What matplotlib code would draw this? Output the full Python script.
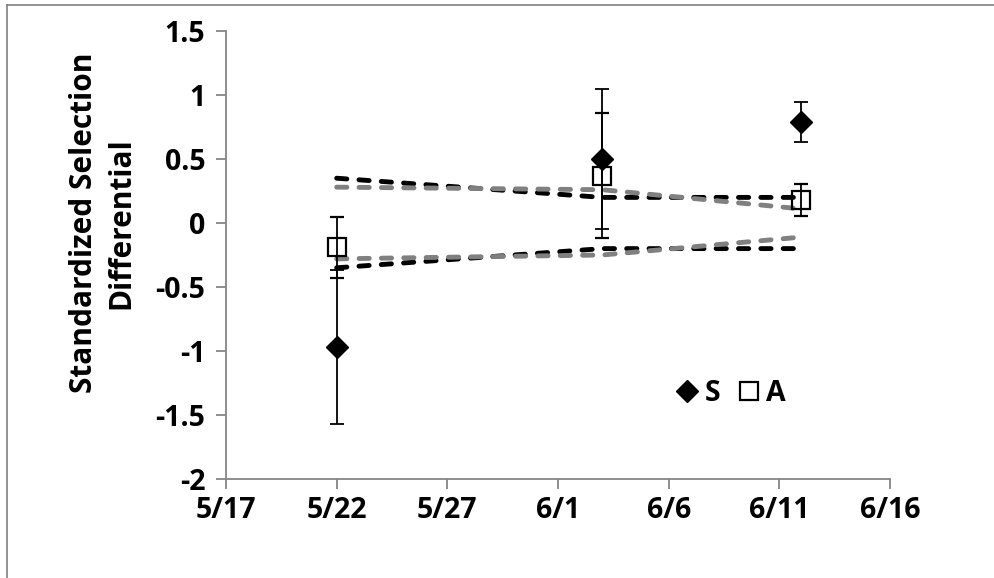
import matplotlib
matplotlib.use("Agg")
import matplotlib.pyplot as plt
import matplotlib.dates as mdates
from matplotlib.lines import Line2D
import datetime as dt

# point dates
dates = [dt.date(2013, 5, 22), dt.date(2013, 6, 3), dt.date(2013, 6, 12)]

# S series (filled diamonds)
s_vals = [-0.97, 0.50, 0.79]
s_err = [0.60, 0.55, 0.155]

# A series (open squares)
a_vals = [-0.19, 0.37, 0.18]
a_err = [0.24, 0.49, 0.125]

# significance bands (dashed)
black_upper = [0.35, 0.20, 0.20]
black_lower = [-0.35, -0.20, -0.20]
gray_upper = [0.28, 0.26, 0.11]
gray_lower = [-0.28, -0.25, -0.11]

tick_dates = [dt.date(2013, 5, 17) + dt.timedelta(days=5 * i) for i in range(7)]
y_ticks = [-2, -1.5, -1, -0.5, 0, 0.5, 1, 1.5]
y_labels = ["-2", "-1.5", "-1", "-0.5", "0", "0.5", "1", "1.5"]

plt.rcParams["font.family"] = ["Open Sans", "DejaVu Sans"]
plt.rcParams["font.weight"] = "bold"

fig = plt.figure(figsize=(9.95, 5.78), dpi=100)
ax = fig.add_axes([226 / 995, 1 - 479 / 578, (890 - 226) / 995, (479 - 31) / 578])

axis_gray = "#868686"

# figure border (left and top only)
fig.add_artist(Line2D([7.5 / 995, 7.5 / 995], [0, 1 - 5 / 578], transform=fig.transFigure,
                      color="#808080", lw=1.2))
fig.add_artist(Line2D([7.5 / 995, 1], [1 - 5 / 578, 1 - 5 / 578], transform=fig.transFigure,
                      color="#808080", lw=1.2))

dash = (0, (2.1, 2.5))
for band, col in [(black_upper, "black"), (black_lower, "black"),
                  (gray_upper, "#808080"), (gray_lower, "#808080")]:
    ax.plot(dates, band, color=col, lw=3.5, linestyle=dash, dash_capstyle="round", zorder=2)

ax.errorbar(dates, s_vals, yerr=s_err, fmt="D", color="black", markersize=11,
            ecolor="black", elinewidth=1.3, capsize=5, capthick=1.3, zorder=4)
ax.errorbar(dates, a_vals, yerr=a_err, fmt="s", color="black", markersize=13.5,
            markerfacecolor="none", markeredgewidth=1.6,
            ecolor="black", elinewidth=1.3, capsize=5, capthick=1.3, zorder=4)

ax.set_xlim(dt.date(2013, 5, 17), dt.date(2013, 6, 16))
ax.set_ylim(-2, 1.5)
ax.set_xticks(tick_dates)
ax.xaxis.set_major_formatter(mdates.DateFormatter("%-m/%-d"))
ax.set_yticks(y_ticks)
ax.set_yticklabels(y_labels)

for side in ["top", "right"]:
    ax.spines[side].set_visible(False)
for side in ["left", "bottom"]:
    ax.spines[side].set_color(axis_gray)
    ax.spines[side].set_linewidth(1.3)

ax.tick_params(axis="both", colors=axis_gray, labelcolor="black", length=7, width=1.3,
               labelsize=20.5, pad=8)
ax.tick_params(axis="x", pad=5)
for lab in ax.get_xticklabels() + ax.get_yticklabels():
    lab.set_fontweight("bold")

ax.set_ylabel("Standardized Selection\nDifferential", fontsize=21.5, fontweight="bold",
              linespacing=1.31)
ax.yaxis.set_label_coords(-0.1355, 0.571)

handles = [
    Line2D([], [], marker="D", color="black", linestyle="none", markersize=11),
    Line2D([], [], marker="s", color="black", linestyle="none", markersize=13.5,
           markerfacecolor="none", markeredgewidth=1.6),
]
ax.legend(handles, ["S", "A"], loc="center", bbox_to_anchor=(0.76, 0.19), ncol=2,
          frameon=False, handlelength=0.8, handletextpad=0.2, columnspacing=0.6,
          prop={"weight": "bold", "size": 20.5})

fig.savefig("out.png", dpi=100)
